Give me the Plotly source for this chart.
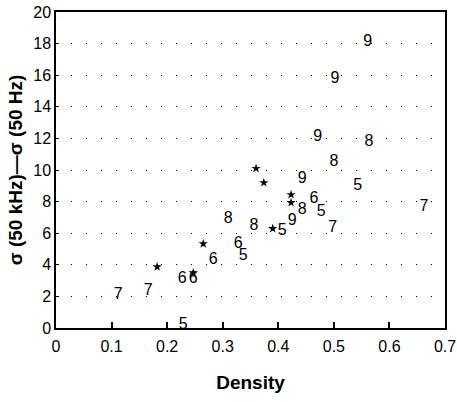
import plotly.graph_objects as go

# Digit-labelled points (label, density, sigma difference)
digit_labels = ["9", "9", "9", "8", "8", "9", "5", "6", "8", "5", "7", "8", "9", "8", "5", "7",
                "6", "5", "6", "6", "6", "7", "7", "5"]
digit_x = [0.561, 0.502, 0.471, 0.563, 0.500, 0.443, 0.543, 0.464, 0.443, 0.477, 0.662, 0.310,
           0.425, 0.356, 0.407, 0.498, 0.328, 0.337, 0.283, 0.227, 0.247, 0.112, 0.166, 0.229]
digit_y = [18.1, 15.75, 12.06, 11.8, 10.5, 9.46, 9.0, 8.19, 7.49, 7.37, 7.68, 6.92,
           6.79, 6.48, 6.16, 6.35, 5.33, 4.57, 4.32, 3.11, 3.11, 2.10, 2.35, 0.19]

# Asterisk points
star_x = [0.360, 0.374, 0.423, 0.423, 0.390, 0.265, 0.182, 0.247]
star_y = [10.1, 9.2, 8.44, 7.94, 6.29, 5.33, 3.87, 3.49]

x_ticks = [0, 0.1, 0.2, 0.3, 0.4, 0.5, 0.6, 0.7]
x_tick_labels = ["0", "0.1", "0.2", "0.3", "0.4", "0.5", "0.6", "0.7"]
y_ticks = [0, 2, 4, 6, 8, 10, 12, 14, 16, 18, 20]

font = "Liberation Sans, Arial, sans-serif"

fig = go.Figure()
fig.add_trace(go.Scatter(
    x=digit_x, y=digit_y, mode="text", text=digit_labels,
    textposition="middle center",
    textfont=dict(family=font, size=16, color="black"),
    showlegend=False, cliponaxis=False,
))
fig.add_trace(go.Scatter(
    x=star_x, y=star_y, mode="markers",
    marker=dict(symbol="star", size=7, color="black"),
    showlegend=False, cliponaxis=False,
))

fig.update_layout(
    width=457, height=402,
    margin=dict(l=56, r=12, t=12, b=74),
    plot_bgcolor="white", paper_bgcolor="white",
    font=dict(family=font, size=14, color="black"),
)
fig.update_xaxes(
    range=[0, 0.7], tickvals=x_ticks, ticktext=x_tick_labels,
    showgrid=False, zeroline=False, automargin=False,
    showline=True, linecolor="black", linewidth=1.5, mirror=True,
    ticks="inside", ticklen=6, tickcolor="black", tickwidth=1.5,
    tickfont=dict(size=16), ticklabelstandoff=3, ticklabeloverflow="allow",
    title=dict(text="<b>Density</b>", font=dict(size=19), standoff=22),
)
fig.update_yaxes(
    range=[0, 20], tickvals=y_ticks,
    showgrid=True, gridcolor="black", gridwidth=1, griddash="1px,14px",
    zeroline=False, automargin=False,
    showline=True, linecolor="black", linewidth=1.5, mirror=True,
    ticks="inside", ticklen=3, tickcolor="black",
    tickfont=dict(size=16), ticklabeloverflow="allow",
    title=dict(text="<b>σ (50 kHz)—σ (50 Hz)</b>", font=dict(size=19), standoff=6),
)

fig.write_html(
    "out.html",
    config={"displayModeBar": False},
    post_script="document.body.style.margin='0px';document.body.style.overflow='hidden';",
)
